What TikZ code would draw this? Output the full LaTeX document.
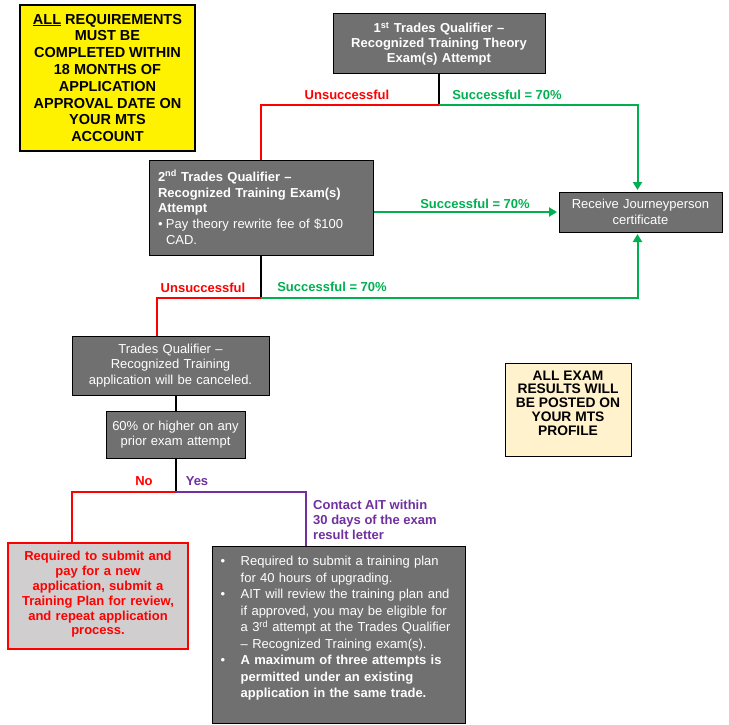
\documentclass[tikz,border=0pt]{standalone}
\usepackage{fontspec}
\setmainfont{Liberation Sans}
\usetikzlibrary{arrows.meta}
\definecolor{boxgray}{HTML}{707070}
\definecolor{okgreen}{HTML}{00B050}
\definecolor{nored}{HTML}{FF0000}
\definecolor{yespurple}{HTML}{7030A0}
\definecolor{cream}{HTML}{FFF2CC}
\definecolor{paleg}{HTML}{D0CECE}
\newcommand\bulA{\makebox[20pt][l]{\textbullet}}
\newcommand\bulB{\makebox[8pt][l]{\textbullet}}
\begin{document}
\begin{tikzpicture}[x=1pt,y=-1pt,
  graybox/.style={draw=black, line width=1pt, fill=boxgray, text=white, inner sep=0pt, rectangle},
  conn/.style={line width=2pt},
  tip/.style={-{Triangle[length=8pt,width=9pt]}, shorten >=1.5pt},
  lbl/.style={font=\bfseries\fontsize{13}{15}\selectfont, inner sep=0pt},
  reg/.style={font=\fontsize{13}{15.3}\selectfont},
  bld/.style={font=\bfseries\fontsize{13}{15}\selectfont}]
\useasboundingbox (0,0) rectangle (729,725);

% notes
\node[draw=black, line width=2.5pt, fill=yellow, minimum width=175pt, minimum height=146pt,
      align=center, inner sep=0pt, font=\bfseries\fontsize{14.5}{16.8}\selectfont] (note)
  at (107.5,78) {\underline{ALL} REQUIREMENTS\\MUST BE\\COMPLETED WITHIN\\18 MONTHS OF\\APPLICATION\\APPROVAL DATE ON\\YOUR MTS\\ACCOUNT};
\node[draw=black, line width=1pt, fill=cream, minimum width=126pt, minimum height=93pt] (posted)
  at (568,409.5) {};
\node[align=center, inner sep=0pt, font=\bfseries\fontsize{13.8}{13.7}\selectfont] (postedtxt)
  at (568,403) {ALL EXAM\\RESULTS WILL\\BE POSTED ON\\YOUR MTS\\PROFILE};

% boxes
\node[graybox, bld, minimum width=212pt, minimum height=60pt, text width=205pt, align=center] (b1)
  at (439,44) {1\textsuperscript{st} Trades Qualifier –\\Recognized Training Theory\\Exam(s) Attempt};
\node[graybox, minimum width=224pt, minimum height=95pt, text width=206pt, inner xsep=9pt, align=left,
      font=\fontsize{13}{15.8}\selectfont] (b2)
  at (261,207.5) {\textbf{2\textsuperscript{nd} Trades Qualifier –}\\\textbf{Recognized Training Exam(s)}\\\textbf{Attempt}\\\bulB Pay theory rewrite fee of \$100\\\hspace*{8pt}CAD.};
\node[graybox, reg, minimum width=163pt, minimum height=40pt, text width=160pt, align=center] (rec)
  at (640.5,212) {Receive Journeyperson\\certificate};
\node[graybox, reg, minimum width=197pt, minimum height=59pt, text width=195pt, align=center] (b3)
  at (170.5,365.5) {Trades Qualifier –\\Recognized Training\\application will be canceled.};
\node[graybox, font=\fontsize{13}{14.5}\selectfont, minimum width=139pt, minimum height=47pt, text width=137pt, align=center] (b4)
  at (175.5,434.5) {60\% or higher on any\\prior exam attempt};
\node[draw=nored, line width=1.2pt, fill=paleg, minimum width=180pt, minimum height=106pt] (rb)
  at (98,596) {};
\node[text=nored, inner sep=0pt, text width=176pt, align=center, font=\bfseries\fontsize{13}{14.8}\selectfont] (rbtxt)
  at (98,594.5) {Required to submit and\\pay for a new\\application, submit a\\Training Plan for review,\\and repeat application\\process.};
\node[graybox, minimum width=253pt, minimum height=177pt] (big) at (338.5,634.5) {};
\node[anchor=north west, text=white, inner sep=0pt, text width=242pt, align=left,
      font=\fontsize{13}{16.5}\selectfont] (bigtxt) at ([xshift=9pt,yshift=-10.5pt]big.north west)
  {\bulA Required to submit a training plan\\
   \hspace*{20pt}for 40 hours of upgrading.\\
   \bulA AIT will review the training plan and\\
   \hspace*{20pt}if approved, you may be eligible for\\
   \hspace*{20pt}a 3\textsuperscript{rd} attempt at the Trades Qualifier\\
   \hspace*{20pt}– Recognized Training exam(s).\\
   \bulA\textbf{A maximum of three attempts is}\\
   \hspace*{20pt}\textbf{permitted under an existing}\\
   \hspace*{20pt}\textbf{application in the same trade.}};

% junctions
\coordinate (j1) at (439,105);
\coordinate (j2) at (261,298);
\coordinate (j3) at (175.5,492);

% connectors
\draw[conn] (b1.south) -- (j1);
\draw[conn, nored] (j1) -| (b2.north);
\draw[conn, okgreen, tip] (j1) -| ([xshift=-3pt]rec.north);
\draw[conn, okgreen, tip] (b2.east |- rec.west) -- (rec.west);
\draw[conn] (b2.south) -- (j2);
\draw[conn, nored] (j2) -| ([xshift=-13.5pt]b3.north);
\draw[conn, okgreen, tip] (j2) -| ([xshift=-3pt]rec.south);
\draw[conn] (b3.south -| b4.north) -- (b4.north);
\draw[conn] (b4.south) -- (j3);
\draw[conn, nored] (j3) -| ([xshift=-26pt]rb.north);
\draw[conn, yespurple] (j3) -| ([xshift=-32.5pt]big.north);

% labels
\node[lbl, text=nored] (l1) at (347,95) {Unsuccessful};
\node[lbl, text=okgreen] (l2) at (507,95) {Successful = 70\%};
\node[lbl, text=okgreen] (l3) at (475,204) {Successful = 70\%};
\node[lbl, text=nored] (l4) at (203,288) {Unsuccessful};
\node[lbl, text=okgreen] (l5) at (332,287) {Successful = 70\%};
\node[lbl, text=nored] (l6) at (144,481) {No};
\node[lbl, text=yespurple] (l7) at (197,481) {Yes};
\node[lbl, text=yespurple, align=left, anchor=west] (l8) at (313,520) {Contact AIT within\\30 days of the exam\\result letter};
\end{tikzpicture}
\end{document}
